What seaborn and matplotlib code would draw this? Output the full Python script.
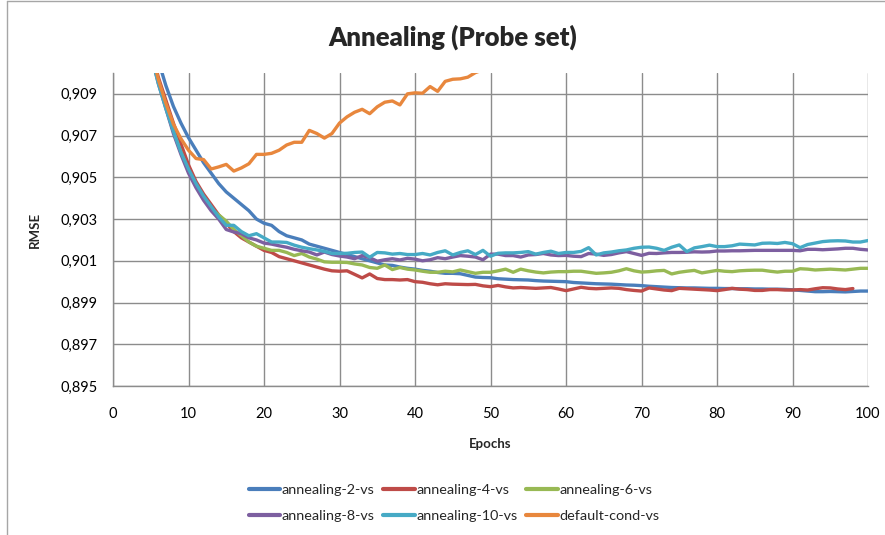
import matplotlib
matplotlib.use("Agg")
import matplotlib.pyplot as plt
from matplotlib.lines import Line2D
from matplotlib.ticker import FuncFormatter
import numpy as np
import pandas as pd
import seaborn as sns

# ---------------- data ----------------
series_names = ["annealing-2-vs", "annealing-4-vs", "annealing-6-vs",
                "annealing-8-vs", "annealing-10-vs", "default-cond-vs"]

ann2_epochs = list(range(4, 101))
ann2 = [0.9135, 0.9120, 0.9106, 0.9094, 0.9084, 0.9076, 0.9069, 0.9063, 0.9057, 0.9052,
        0.9047, 0.9043, 0.9040, 0.9037, 0.9034, 0.9030, 0.9028, 0.9027, 0.9024, 0.9022,
        0.9021, 0.9020, 0.9018, 0.9017, 0.9016, 0.9015, 0.9014, 0.9013, 0.9012, 0.9011,
        0.9010, 0.9009, 0.9008, 0.90078, 0.9007, 0.90064, 0.9006, 0.90054, 0.9005, 0.90044,
        0.9004, 0.9004, 0.90038, 0.9003, 0.90022, 0.9002, 0.90019, 0.90014, 0.90012, 0.90010,
        0.90009, 0.90008, 0.90005, 0.90003, 0.90002, 0.90001, 0.90000, 0.89996, 0.89994, 0.89992,
        0.89990, 0.89989, 0.89988, 0.89986, 0.89984, 0.89983, 0.89981, 0.89978, 0.89976, 0.89974,
        0.89972, 0.89971, 0.89970, 0.89970, 0.89969, 0.89968, 0.89968, 0.89967, 0.89967, 0.89966,
        0.89966, 0.89965, 0.89965, 0.89964, 0.89964, 0.89963, 0.89961, 0.89958, 0.89955, 0.89952,
        0.89952, 0.89953, 0.89952, 0.89951, 0.89953, 0.89955, 0.89955]

ann4_epochs = list(range(4, 99))
ann4 = [0.9128, 0.9112, 0.9098, 0.9087, 0.9076, 0.9066, 0.9056, 0.9048, 0.9042, 0.9037,
        0.9032, 0.9028, 0.9024, 0.9021, 0.9019, 0.9017, 0.9015, 0.9014, 0.9012, 0.9011,
        0.9010, 0.9009, 0.9008, 0.9007, 0.9006, 0.90052, 0.90050, 0.90052, 0.90035, 0.90018,
        0.90037, 0.90015, 0.90010, 0.90010, 0.90008, 0.90010, 0.90000, 0.89997, 0.89990, 0.89985,
        0.89990, 0.89988, 0.89987, 0.89986, 0.89987, 0.89980, 0.89976, 0.89982, 0.89975, 0.89970,
        0.89972, 0.89970, 0.89968, 0.89970, 0.89972, 0.89965, 0.89957, 0.89965, 0.89973, 0.89968,
        0.89966, 0.89968, 0.89970, 0.89968, 0.89962, 0.89958, 0.89955, 0.89970, 0.89965, 0.89960,
        0.89957, 0.89968, 0.89966, 0.89964, 0.89962, 0.89960, 0.89957, 0.89962, 0.89968, 0.89964,
        0.89962, 0.89958, 0.89958, 0.89962, 0.89962, 0.89960, 0.89960, 0.89962, 0.89960, 0.89966,
        0.89971, 0.89970, 0.89965, 0.89962, 0.89967]

ann6_epochs = list(range(4, 101))
ann6 = [0.9125, 0.9110, 0.9096, 0.9084, 0.9072, 0.9062, 0.9053, 0.9046, 0.9040, 0.9035,
        0.9032, 0.9029, 0.9025, 0.9022, 0.9019, 0.9017, 0.9016, 0.9015, 0.9015, 0.9014,
        0.90125, 0.90135, 0.90118, 0.90108, 0.90095, 0.90093, 0.90093, 0.90092, 0.90085, 0.90080,
        0.90068, 0.90064, 0.90080, 0.90058, 0.90068, 0.90060, 0.90056, 0.90050, 0.90045, 0.90045,
        0.90050, 0.90047, 0.90056, 0.90048, 0.90040, 0.90045, 0.90045, 0.90052, 0.90060, 0.90045,
        0.90060, 0.90052, 0.90046, 0.90042, 0.90046, 0.90048, 0.90048, 0.90050, 0.90050, 0.90045,
        0.90040, 0.90042, 0.90045, 0.90052, 0.90062, 0.90052, 0.90046, 0.90048, 0.90052, 0.90054,
        0.90037, 0.90045, 0.90050, 0.90054, 0.90042, 0.90048, 0.90054, 0.90050, 0.90048, 0.90052,
        0.90054, 0.90055, 0.90055, 0.90050, 0.90046, 0.90050, 0.90050, 0.90062, 0.90060, 0.90056,
        0.90058, 0.90060, 0.90058, 0.90056, 0.90060, 0.90064, 0.90064]

ann8_epochs = list(range(4, 101))
ann8 = [0.9125, 0.9110, 0.9095, 0.9083, 0.9071, 0.9061, 0.9052, 0.9045, 0.9039, 0.9034,
        0.9030, 0.9025, 0.90238, 0.9023, 0.9021, 0.9020, 0.90185, 0.90180, 0.90172, 0.90165,
        0.90155, 0.90148, 0.90142, 0.90128, 0.90142, 0.90130, 0.90123, 0.90118, 0.90110, 0.90125,
        0.90115, 0.90098, 0.90105, 0.90110, 0.90104, 0.90112, 0.90108, 0.90100, 0.90105, 0.90115,
        0.90110, 0.90118, 0.90125, 0.90122, 0.90118, 0.90105, 0.90132, 0.90132, 0.90125, 0.90125,
        0.90118, 0.90128, 0.90130, 0.90135, 0.90128, 0.90125, 0.90126, 0.90122, 0.90120, 0.90135,
        0.90132, 0.90126, 0.90130, 0.90138, 0.90144, 0.90135, 0.90126, 0.90136, 0.90135, 0.90138,
        0.90140, 0.90140, 0.90141, 0.90143, 0.90142, 0.90143, 0.90147, 0.90147, 0.90148, 0.90148,
        0.90149, 0.90150, 0.90150, 0.90150, 0.90150, 0.90150, 0.90150, 0.90148, 0.90155, 0.90155,
        0.90153, 0.90155, 0.90157, 0.90160, 0.90160, 0.90155, 0.90152]

ann10_epochs = list(range(4, 101))
ann10 = [0.9124, 0.9109, 0.9095, 0.9083, 0.9072, 0.9062, 0.9054, 0.9047, 0.9041, 0.9036,
         0.9031, 0.9027, 0.9027, 0.9024, 0.9022, 0.9023, 0.9021, 0.9019, 0.9019, 0.90188,
         0.90175, 0.90165, 0.90158, 0.90152, 0.90145, 0.90135, 0.90135, 0.90136, 0.90140, 0.90142,
         0.90117, 0.90140, 0.90138, 0.90132, 0.90135, 0.90130, 0.90130, 0.90135, 0.90128, 0.90140,
         0.90148, 0.90128, 0.90140, 0.90148, 0.90130, 0.90150, 0.90122, 0.90136, 0.90138, 0.90138,
         0.90140, 0.90144, 0.90132, 0.90140, 0.90146, 0.90135, 0.90140, 0.90140, 0.90145, 0.90163,
         0.90128, 0.90138, 0.90142, 0.90148, 0.90152, 0.90160, 0.90165, 0.90166, 0.90160, 0.90150,
         0.90165, 0.90176, 0.90144, 0.90162, 0.90168, 0.90175, 0.90168, 0.90168, 0.90172, 0.90180,
         0.90178, 0.90176, 0.90184, 0.90185, 0.90183, 0.90188, 0.90182, 0.90163, 0.90178, 0.90185,
         0.90192, 0.90195, 0.90196, 0.90195, 0.90190, 0.90190, 0.90197]

default_epochs = list(range(4, 51))
default = [0.9128, 0.9112, 0.9097, 0.90855, 0.90755, 0.90685, 0.9063, 0.9059, 0.90585, 0.9054,
           0.9055, 0.90562, 0.9053, 0.90545, 0.90565, 0.9061, 0.9061, 0.90615, 0.9063, 0.90655,
           0.90668, 0.90668, 0.90725, 0.9071, 0.90688, 0.9071, 0.9076, 0.9079, 0.90812, 0.90826,
           0.90805, 0.90838, 0.9086, 0.90866, 0.90847, 0.9090, 0.90905, 0.90903, 0.90935, 0.90912,
           0.9096, 0.9097, 0.90972, 0.9098, 0.91002, 0.91015, 0.9103]

x_ticks = list(range(0, 101, 10))
y_ticks = [0.895, 0.897, 0.899, 0.901, 0.903, 0.905, 0.907, 0.909]

# ---------------- frame ----------------
frames = []
for name, ep, vals in zip(series_names,
                          [ann2_epochs, ann4_epochs, ann6_epochs, ann8_epochs, ann10_epochs, default_epochs],
                          [ann2, ann4, ann6, ann8, ann10, default]):
    frames.append(pd.DataFrame({"Epochs": ep, "RMSE": vals, "series": name}))
df = pd.concat(frames, ignore_index=True)

colors = ["#4A7EBB", "#BE4B48", "#98B954", "#7D5FA0", "#46AAC5", "#E8873D"]
palette = dict(zip(series_names, colors))

sns.set_style("white")
plt.rcParams["font.family"] = ["Lato", "DejaVu Sans"]

fig = plt.figure(figsize=(8.85, 5.35), dpi=100)
ax = fig.add_axes([113 / 885, 1 - 386 / 535, (868 - 113) / 885, (386 - 73) / 535])

sns.lineplot(data=df, x="Epochs", y="RMSE", hue="series", palette=palette,
             hue_order=series_names, linewidth=2.4, ax=ax, legend=False,
             estimator=None, sort=True)

ax.set_xlim(0, 100)
ax.set_ylim(0.895, 0.910)
ax.set_xticks(x_ticks)
ax.set_yticks(y_ticks)
ax.yaxis.set_major_formatter(FuncFormatter(lambda v, p: f"{v:.3f}".replace(".", ",")))
ax.xaxis.set_major_formatter(FuncFormatter(lambda v, p: f"{int(round(v))}"))
ax.grid(True, color="#8C8C8C", linewidth=1.0)
ax.set_axisbelow(True)
for s in ["top", "right"]:
    ax.spines[s].set_visible(False)
for s in ["left", "bottom"]:
    ax.spines[s].set_color("#8C8C8C")
    ax.spines[s].set_linewidth(1.0)
ax.tick_params(axis="both", which="major", direction="out", length=5, width=1.0,
               color="#8C8C8C", labelsize=10.5, labelcolor="black")
ax.tick_params(axis="x", pad=10)
ax.tick_params(axis="y", pad=6)

ax.set_xlabel("Epochs", fontsize=9.5, fontweight="bold", labelpad=12)
ax.set_ylabel("RMSE", fontsize=9.5, fontweight="bold", labelpad=14)

fig.text(0.511, 1 - 37 / 535, "Annealing (Probe set)", ha="center", va="center",
         fontsize=18.5, fontweight="heavy")

# legend (row-wise order like the reference)
handles = [Line2D([0], [0], color=palette[n], linewidth=3.0) for n in series_names]
order = [0, 3, 1, 4, 2, 5]
leg = fig.legend([handles[i] for i in order], [series_names[i] for i in order],
                 loc="center", bbox_to_anchor=(0.513, 1 - 503 / 535), ncol=3,
                 frameon=False, fontsize=10.4, handlelength=2.2, handletextpad=0.1,
                 columnspacing=0.6, labelspacing=1.0)

# chart-area border (left and top)
fig.add_artist(Line2D([7 / 885, 7 / 885], [0, 1 - 1 / 535], transform=fig.transFigure,
                      color="#A6A6A6", linewidth=1.0))
fig.add_artist(Line2D([7 / 885, 1], [1 - 1 / 535, 1 - 1 / 535], transform=fig.transFigure,
                      color="#A6A6A6", linewidth=1.0))

fig.savefig("out.png", dpi=100, facecolor="white")
